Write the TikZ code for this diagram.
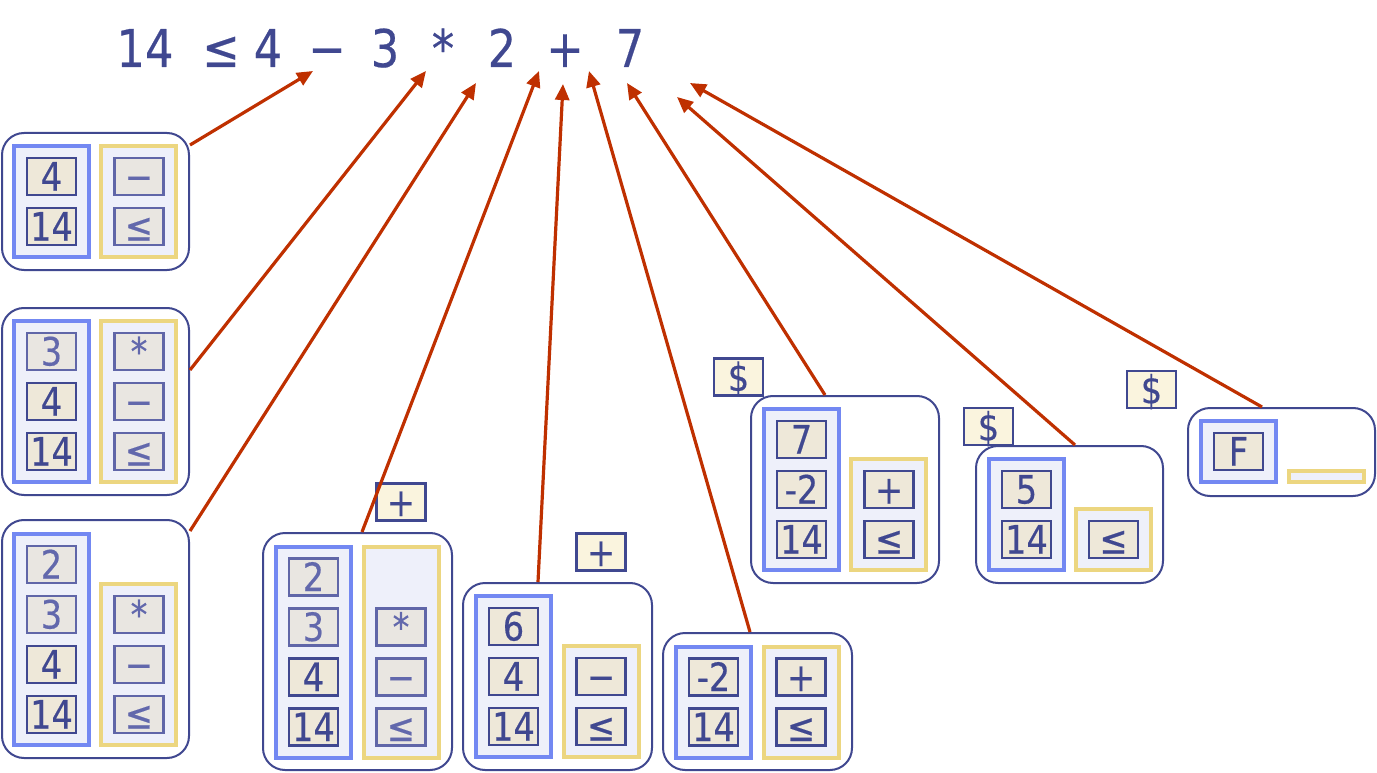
\documentclass[tikz,border=0pt]{standalone}
\usepackage{fontspec}
\setmainfont[FakeStretch=0.86,FakeBold=0.4]{DejaVu Sans}
\usetikzlibrary{arrows.meta,calc}
\definecolor{navy}{HTML}{404890}
\definecolor{cellfill}{HTML}{EEE8D9}
\definecolor{fadefill}{HTML}{E9E6E1}
\definecolor{fadeline}{HTML}{6066A8}
\definecolor{fadetext}{HTML}{6268AC}
\definecolor{bluecol}{HTML}{7388F2}
\definecolor{yellowcol}{HTML}{ECD680}
\definecolor{colfill}{HTML}{EEF0FA}
\definecolor{labfill}{HTML}{FAF4DE}
\definecolor{arrowc}{HTML}{BF3000}
\tikzset{
 cell/.style={draw=navy, fill=cellfill, text=navy, line width=2.3pt, minimum width=49pt, minimum height=37pt, inner sep=0pt, text height=28pt, text depth=0pt, font=\fontsize{39}{41}\selectfont},
 fcell/.style={cell, draw=fadeline, fill=fadefill, text=fadetext},
 lab/.style={cell, fill=labfill},
 bcol/.style={draw=bluecol, fill=colfill, line width=4pt, inner sep=0pt, minimum width=75pt},
 ycol/.style={draw=yellowcol, fill=colfill, line width=4pt, inner sep=0pt, minimum width=75pt},
 outer/.style={draw=navy, line width=2pt, rounded corners=22pt, inner sep=0pt},
 arr/.style={draw=arrowc, line width=3.2pt, -{Triangle[length=16pt,width=14pt]}},
 title/.style={text=navy, font=\fontsize{52}{56}\selectfont, anchor=base, inner sep=0pt},
}
\begin{document}
\begin{tikzpicture}[x=1pt,y=-1pt]
\useasboundingbox (0,0) rectangle (1377,773);
% title tokens
\node[title] (t14) at (145,67) {14};
\node[title] (tle) at (221,67) {≤};
\node[title] (t4) at (268,67) {4};
\node[title] (tminus) at (327,67) {−};
\node[title] (t3) at (385,67) {3};
\node[title] (tstar) at (443,67) {*};
\node[title] (t2) at (502,67) {2};
\node[title] (tplus) at (565,67) {+};
\node[title] (t7) at (630,67) {7};
% outer boxes
\node[outer, minimum width=187pt, minimum height=137pt] (box1) at (95.5,201.5) {};
\node[outer, minimum width=187pt, minimum height=187pt] (box2) at (95.5,401.5) {};
\node[outer, minimum width=187pt, minimum height=238pt] (box3) at (95.5,639) {};
\node[outer, minimum width=189pt, minimum height=237pt] (box4) at (357.5,651.5) {};
\node[outer, minimum width=189pt, minimum height=187pt] (box5) at (557.5,676.5) {};
\node[outer, minimum width=189pt, minimum height=137pt] (box6) at (757.5,701.5) {};
\node[outer, minimum width=188pt, minimum height=187pt] (box7) at (845,489.5) {};
\node[outer, minimum width=187pt, minimum height=137pt] (box8) at (1069.5,514.5) {};
\node[outer, minimum width=187pt, minimum height=88pt] (box9) at (1281.5,452) {};
% columns
\node[bcol, minimum height=111pt] (c1b) at (51.5,201.5) {};
\node[ycol, minimum height=111pt] (c1y) at (138.5,201.5) {};
\node[bcol, minimum height=161pt] (c2b) at (51.5,401.5) {};
\node[ycol, minimum height=161pt] (c2y) at (138.5,401.5) {};
\node[bcol, minimum height=211pt] (c3b) at (51.5,639.5) {};
\node[ycol, minimum height=161pt] (c3y) at (138.5,664.5) {};
\node[bcol, minimum height=211pt] (c4b) at (313.5,652) {};
\node[ycol, minimum height=211pt] (c4y) at (401,652) {};
\node[bcol, minimum height=161pt] (c5b) at (513.5,676.5) {};
\node[ycol, minimum height=111pt] (c5y) at (601,701.5) {};
\node[bcol, minimum height=111pt] (c6b) at (713.5,702) {};
\node[ycol, minimum height=111pt] (c6y) at (801,702) {};
\node[bcol, minimum height=161pt] (c7b) at (801.5,489.5) {};
\node[ycol, minimum height=111pt] (c7y) at (888.5,514.5) {};
\node[bcol, minimum height=111pt] (c8b) at (1026.5,514.5) {};
\node[ycol, minimum height=61pt] (c8y) at (1113.5,539.5) {};
\node[bcol, minimum height=61pt] (c9b) at (1238,451.5) {};
\node[ycol, minimum height=11pt] (c9y) at (1326.5,476.5) {};
% box 1 cells
\node[cell] (b1a) at (51.5,176.5) {4};
\node[cell] (b1b) at (51.5,226.5) {14};
\node[fcell] (b1c) at (139,176.5) {−};
\node[fcell] (b1d) at (139,226.5) {≤};
% box 2 cells
\node[fcell] (b2a) at (51.5,351.5) {3};
\node[cell] (b2b) at (51.5,401.5) {4};
\node[cell] (b2c) at (51.5,451.5) {14};
\node[fcell] (b2d) at (139,351.5) {*};
\node[fcell] (b2e) at (139,401.5) {−};
\node[fcell] (b2f) at (139,451.5) {≤};
% box 3 cells
\node[fcell] (b3a) at (51.5,564.5) {2};
\node[fcell] (b3b) at (51.5,614.5) {3};
\node[cell] (b3c) at (51.5,664.5) {4};
\node[cell] (b3d) at (51.5,714.5) {14};
\node[fcell] (b3e) at (139,614.5) {*};
\node[fcell] (b3f) at (139,664.5) {−};
\node[fcell] (b3g) at (139,714.5) {≤};
% box 4 cells
\node[fcell] (b4a) at (313.5,577) {2};
\node[fcell] (b4b) at (313.5,627) {3};
\node[cell] (b4c) at (313.5,677) {4};
\node[cell] (b4d) at (313.5,727) {14};
\node[fcell] (b4e) at (401,627) {*};
\node[fcell] (b4f) at (401,677) {−};
\node[fcell] (b4g) at (401,727) {≤};
\node[lab] (l4) at (401,502) {+};
% box 5 cells
\node[cell] (b5a) at (513.5,626.5) {6};
\node[cell] (b5b) at (513.5,676.5) {4};
\node[cell] (b5c) at (513.5,726.5) {14};
\node[cell] (b5d) at (601,676.5) {−};
\node[cell] (b5e) at (601,726.5) {≤};
\node[lab] (l5) at (601,552) {+};
% box 6 cells
\node[cell] (b6a) at (713.5,677) {-2};
\node[cell] (b6b) at (713.5,727) {14};
\node[cell] (b6c) at (801,677) {+};
\node[cell] (b6d) at (801,727) {≤};
% box 7 cells
\node[cell] (b7a) at (801.5,439.5) {7};
\node[cell] (b7b) at (801.5,489.5) {-2};
\node[cell] (b7c) at (801.5,539.5) {14};
\node[cell] (b7d) at (889,489.5) {+};
\node[cell] (b7e) at (889,539.5) {≤};
\node[lab] (l7) at (738.5,377) {\$};
% box 8 cells
\node[cell] (b8a) at (1026.5,489.5) {5};
\node[cell] (b8b) at (1026.5,539.5) {14};
\node[cell] (b8c) at (1113.5,539.5) {≤};
\node[lab] (l8) at (988.5,426.5) {\$};
% box 9 cells
\node[cell] (b9a) at (1238.5,451.5) {F};
\node[lab] (l9) at (1151.5,389.5) {\$};
% arrow tips
\coordinate (p1) at (313,71);
\coordinate (p2) at (426,71);
\coordinate (p3) at (476,83);
\coordinate (p4) at (539,71);
\coordinate (p5) at (563,84);
\coordinate (p6) at (589,71);
\coordinate (p7) at (627,83);
\coordinate (p8) at (677,97);
\coordinate (p9) at (690,83);
% arrows
\draw[arr] ([yshift=-13pt]box1.north east) -- (p1);
\draw[arr] ([yshift=31.5pt]box2.east) -- (p2);
\draw[arr] ([yshift=-12pt]box3.north east) -- (p3);
\draw[arr] ([xshift=100pt]box4.north west) -- (p4);
\draw[arr] ([xshift=76pt]box5.north west) -- (p5);
\draw[arr] ([xshift=88pt]box6.north west) -- (p6);
\draw[arr] ([xshift=75pt]box7.north west) -- (p7);
\draw[arr] ([xshift=100pt]box8.north west) -- (p8);
\draw[arr] ([xshift=75pt]box9.north west) -- (p9);
\end{tikzpicture}
\end{document}
